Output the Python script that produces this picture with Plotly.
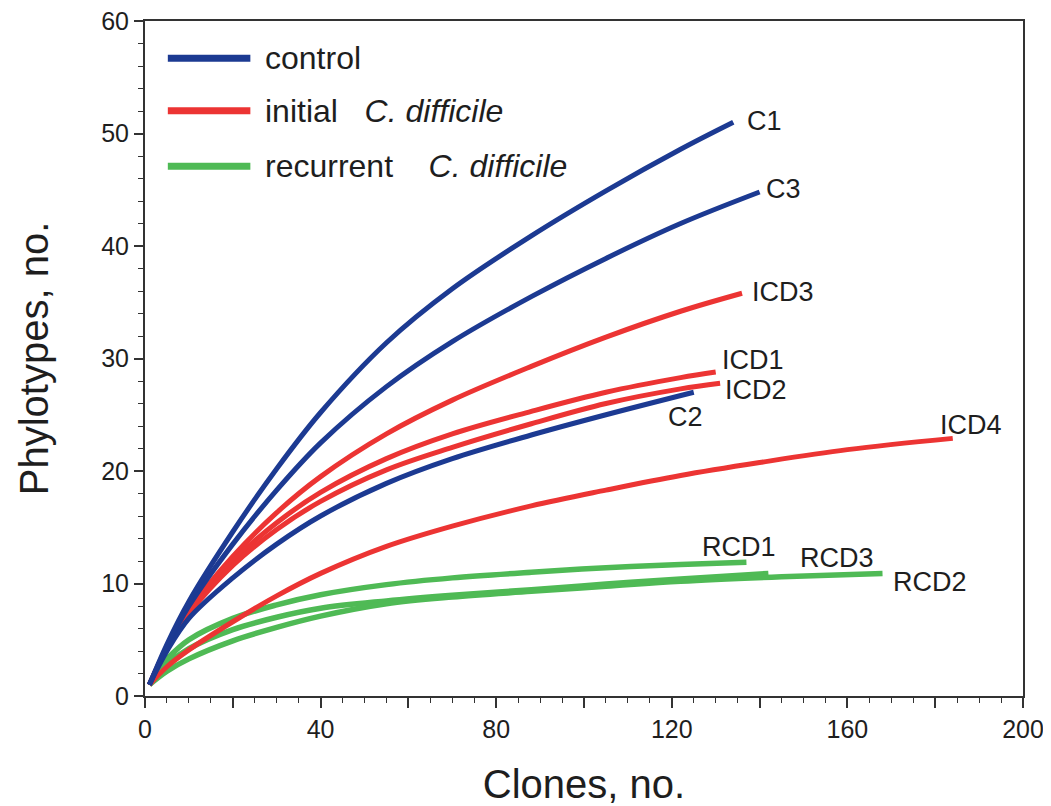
import plotly.graph_objects as go

# ---- data ----
names = ["C1", "C3", "C2", "ICD3", "ICD1", "ICD2", "ICD4", "RCD1", "RCD3", "RCD2"]
groups = ["control", "control", "control", "initial", "initial", "initial", "initial",
          "recurrent", "recurrent", "recurrent"]

c1_x = [1, 5, 10, 20, 30, 40, 55, 70, 88, 105, 122, 134]
c1_y = [1, 4.6, 8.4, 14.6, 20.2, 25.2, 31.4, 36.2, 40.9, 44.9, 48.6, 51]

c3_x = [1, 5, 10, 20, 30, 40, 55, 70, 88, 105, 122, 140]
c3_y = [1, 4.4, 8.0, 13.5, 18.3, 22.5, 27.5, 31.5, 35.5, 38.9, 42.0, 44.8]

c2_x = [1, 5, 10, 20, 30, 40, 55, 70, 88, 105, 125]
c2_y = [1, 4.0, 6.9, 10.5, 13.5, 16.0, 18.9, 21.1, 23.2, 25.0, 27.0]

icd3_x = [1, 5, 10, 20, 30, 40, 55, 70, 88, 105, 122, 136]
icd3_y = [1, 4.3, 7.6, 12.4, 16.3, 19.5, 23.3, 26.3, 29.3, 31.9, 34.2, 35.8]

icd1_x = [1, 5, 10, 20, 30, 40, 55, 70, 88, 105, 122, 130]
icd1_y = [1, 4.3, 7.5, 12.0, 15.4, 18.1, 21.1, 23.3, 25.3, 27.0, 28.3, 28.8]

icd2_x = [1, 5, 10, 20, 30, 40, 55, 70, 88, 105, 122, 131]
icd2_y = [1, 4.2, 7.3, 11.6, 14.8, 17.3, 20.1, 22.1, 24.2, 26.0, 27.3, 27.8]

icd4_x = [1, 5, 10, 20, 30, 40, 55, 70, 88, 105, 122, 140, 160, 184]
icd4_y = [1, 2.6, 4.1, 6.6, 8.9, 10.9, 13.3, 15.1, 16.9, 18.3, 19.6, 20.75, 21.9, 22.9]

rcd1_x = [1, 3, 5, 10, 20, 30, 40, 55, 70, 88, 105, 122, 137]
rcd1_y = [1, 2.4, 3.3, 5.0, 6.9, 8.1, 9.0, 9.9, 10.5, 11.0, 11.4, 11.7, 11.9]

rcd3_x = [1, 5, 10, 20, 30, 40, 55, 70, 88, 105, 122, 142]
rcd3_y = [1, 2.8, 4.2, 5.9, 7.0, 7.8, 8.45, 8.95, 9.45, 9.95, 10.4, 10.9]

rcd2_x = [1, 5, 10, 20, 30, 40, 55, 70, 88, 105, 122, 145, 168]
rcd2_y = [1, 2.2, 3.3, 4.9, 6.1, 7.1, 8.2, 8.8, 9.3, 9.75, 10.2, 10.6, 10.9]

series_x = [c1_x, c3_x, c2_x, icd3_x, icd1_x, icd2_x, icd4_x, rcd1_x, rcd3_x, rcd2_x]
series_y = [c1_y, c3_y, c2_y, icd3_y, icd1_y, icd2_y, icd4_y, rcd1_y, rcd3_y, rcd2_y]

x_tickvals = [0, 20, 40, 60, 80, 100, 120, 140, 160, 180, 200]
x_ticktext = ["0", "", "40", "", "80", "", "120", "", "160", "", "200"]
y_tickvals = [0, 10, 20, 30, 40, 50, 60]

legend_labels = ["control", "initial&nbsp;&nbsp;&nbsp;<i>C. difficile</i>",
                 "recurrent&nbsp;&nbsp;&nbsp;&nbsp;<i>C. difficile</i>"]
legend_groups = ["control", "initial", "recurrent"]

# ---- styles ----
colors = {"control": "#1c3a92", "initial": "#ec3433", "recurrent": "#4fba55"}
widths = {"control": 5.0, "initial": 5.0, "recurrent": 5.5}
# label offsets in pixels from each curve's last point
label_shift = {
    "C1": (12, 1), "C3": (4, 3), "C2": (-28, -25), "ICD3": (8, 1),
    "ICD1": (4, 12), "ICD2": (3, -7), "ICD4": (-15, 13),
    "RCD1": (-46, 15), "RCD3": (30, 15), "RCD2": (8, -9),
}
FONT = "Liberation Sans, Arial, sans-serif"
TXT = "#1e1e1e"

fig = go.Figure()
order = [7, 8, 9, 6, 3, 4, 5, 2, 1, 0]
for i in order:
    g = groups[i]
    fig.add_trace(go.Scatter(
        x=series_x[i], y=series_y[i], mode="lines",
        line=dict(color=colors[g], width=widths[g], shape="spline", smoothing=1.0),
        name=names[i], showlegend=False, hoverinfo="skip"))

for i in range(len(names)):
    dx, dy = label_shift[names[i]]
    fig.add_annotation(
        x=series_x[i][-1], y=series_y[i][-1], text=names[i], showarrow=False,
        xanchor="left", yanchor="middle", xshift=dx, yshift=dy,
        font=dict(family=FONT, size=27, color=TXT))

# legend drawn in paper coordinates
leg_y = [0.945, 0.867, 0.785]
for k, g in enumerate(legend_groups):
    fig.add_shape(type="line", xref="paper", yref="paper",
                  x0=0.026, x1=0.120, y0=leg_y[k], y1=leg_y[k],
                  line=dict(color=colors[g], width=7))
    fig.add_annotation(xref="paper", yref="paper", x=0.134, y=leg_y[k],
                       text=legend_labels[k], showarrow=False,
                       xanchor="left", yanchor="middle",
                       font=dict(family=FONT, size=32, color=TXT))

axis_common = dict(
    showgrid=False, zeroline=False, showline=True, linecolor="#333333", linewidth=2,
    mirror=True, ticks="outside", tickcolor="#333333", tickwidth=1.5,
    tickfont=dict(family=FONT, size=25, color=TXT), automargin=False,
    ticklabeloverflow="allow",
)

fig.update_xaxes(
    range=[0, 200], tickmode="array", tickvals=x_tickvals, ticktext=x_ticktext,
    ticklen=10,
    minor=dict(dtick=5, ticks="outside", ticklen=5, tickcolor="#333333", tickwidth=1.2),
    title=dict(text="Clones, no.", font=dict(family=FONT, size=40, color=TXT), standoff=28),
    **axis_common)
fig.update_yaxes(
    range=[0, 60], tickmode="array", tickvals=y_tickvals,
    ticklen=9,
    minor=dict(dtick=2, ticks="outside", ticklen=5, tickcolor="#333333", tickwidth=1.2),
    title=dict(text="Phylotypes, no.", font=dict(family=FONT, size=40, color=TXT), standoff=40),
    **axis_common)

# page body has an 8px margin: plot area placed at x 145..1023, y 21..696 of the window
fig.update_layout(
    width=1041, height=798,
    margin=dict(l=137, r=26, t=13, b=110),
    plot_bgcolor="white", paper_bgcolor="white",
    showlegend=False,
)

fig.write_html("out.html")
